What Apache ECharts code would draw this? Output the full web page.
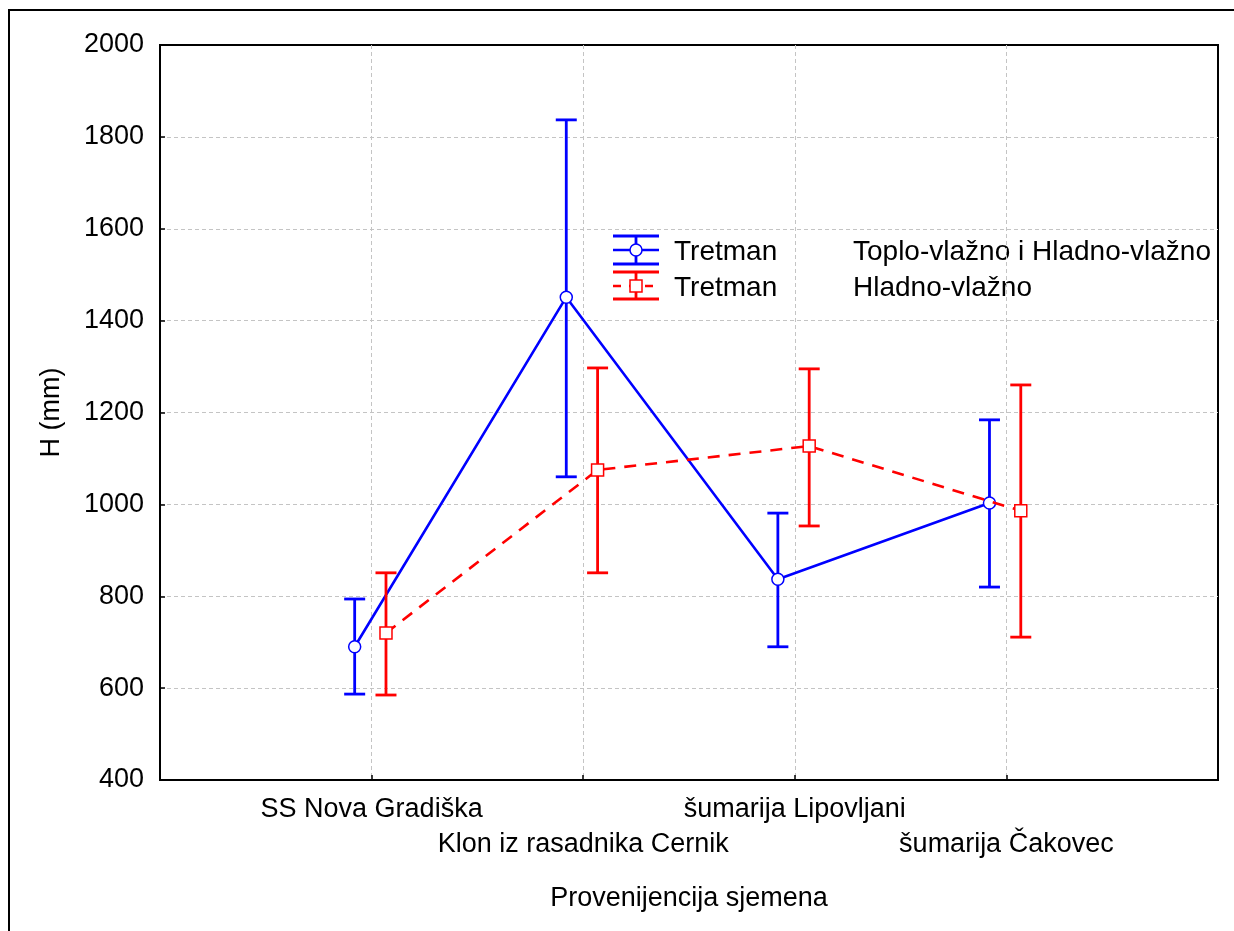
<!DOCTYPE html>
<html>
<head>
<meta charset="utf-8">
<script src="https://cdn.jsdelivr.net/npm/echarts@6/dist/echarts.min.js"></script>
<style>html,body{margin:0;padding:0;background:#fff}#c{width:1234px;height:931px}</style>
</head>
<body>
<div id="c"></div>
<script>
const categories = ['SS Nova Gradiška', 'Klon iz rasadnika Cernik', 'šumarija Lipovljani', 'šumarija Čakovec'];
const blueMean = [690, 1451, 837, 1003];
const blueLow  = [587, 1060, 690, 820];
const blueHigh = [794, 1837, 981, 1184];
const redMean  = [720, 1075, 1127, 986];
const redLow   = [585, 851, 953, 711];
const redHigh  = [851, 1297, 1295, 1260];
const yMin = 400, yMax = 2000, yStep = 200;
const seriesNames = ['Tretman Toplo-vlažno i Hladno-vlažno', 'Tretman Hladno-vlažno'];

const FONT = "'Liberation Sans', Arial, sans-serif";
const FS = 27;
const BLUE = '#0000ff', RED = '#ff0000';
const OFF_BLUE = -0.08, OFF_RED = 0.068;

function pts(vals, off) { return vals.map((v, i) => [i + 1 + off, v]); }
function errData(lo, hi, off) { return lo.map((l, i) => [i + 1 + off, l, hi[i]]); }

function errRender(color) {
  return function (params, api) {
    const x = api.value(0);
    const p1 = api.coord([x, api.value(1)]);
    const p2 = api.coord([x, api.value(2)]);
    const hw = 10.5;
    const st = { stroke: color, lineWidth: 2.8 };
    return {
      type: 'group',
      children: [
        { type: 'line', shape: { x1: p1[0], y1: p1[1], x2: p2[0], y2: p2[1] }, style: st },
        { type: 'line', shape: { x1: p1[0] - hw, y1: p1[1], x2: p1[0] + hw, y2: p1[1] }, style: st },
        { type: 'line', shape: { x1: p2[0] - hw, y1: p2[1], x2: p2[0] + hw, y2: p2[1] }, style: st }
      ]
    };
  };
}

const chart = echarts.init(document.getElementById('c'), null, { renderer: 'canvas' });

const legendX = 613, legendIconW = 46;
function legendIcon(yTop, yMid, yBot, color, dashed, symbol) {
  const cx = legendX + legendIconW / 2;
  const st = { stroke: color, lineWidth: 2.8 };
  const ch = [
    { type: 'line', shape: { x1: legendX, y1: yTop, x2: legendX + legendIconW, y2: yTop }, style: st },
    { type: 'line', shape: { x1: legendX, y1: yBot, x2: legendX + legendIconW, y2: yBot }, style: st },
    { type: 'line', shape: { x1: cx, y1: yTop, x2: cx, y2: yBot }, style: st },
    { type: 'line', shape: { x1: legendX, y1: yMid, x2: legendX + legendIconW, y2: yMid },
      style: { stroke: color, lineWidth: 2.5, lineDash: dashed ? [8, 8] : null } }
  ];
  if (symbol === 'circle') {
    ch.push({ type: 'circle', shape: { cx: cx, cy: yMid, r: 6 }, style: { fill: '#fff', stroke: color, lineWidth: 1.5 } });
  } else {
    ch.push({ type: 'rect', shape: { x: cx - 6, y: yMid - 6, width: 12, height: 12 }, style: { fill: '#fff', stroke: color, lineWidth: 1.5 } });
  }
  return ch;
}

function legendText(x, y, t) {
  return { type: 'text', x: x, y: y, style: { text: t, fill: '#000', font: '28px ' + FONT, verticalAlign: 'middle', align: 'left' } };
}

const option = {
  animation: false,
  backgroundColor: '#fff',
  textStyle: { fontFamily: FONT },
  grid: { left: 160, right: 16, top: 45, bottom: 151, show: true, borderColor: '#000', borderWidth: 2, backgroundColor: 'transparent' },
  xAxis: {
    type: 'value', min: 0, max: categories.length + 1, interval: 1,
    axisLine: { show: true, lineStyle: { color: '#000', width: 2 } },
    axisTick: { show: true, inside: true, length: 5, lineStyle: { color: '#000', width: 1.5 } },
    splitLine: { show: true, showMinLine: false, showMaxLine: false, lineStyle: { color: '#c4c4c4', type: [4, 3], width: 1 } },
    axisLabel: {
      color: '#000', fontSize: FS, fontFamily: FONT, margin: 12, lineHeight: 35,
      formatter: function (v) {
        const i = Math.round(v) - 1;
        if (i < 0 || i >= categories.length) return '';
        return (i % 2 === 1 ? '\n' : '') + categories[i];
      }
    },
    name: 'Provenijencija sjemena', nameLocation: 'middle', nameGap: 105,
    nameTextStyle: { color: '#000', fontSize: FS, fontFamily: FONT }
  },
  yAxis: {
    type: 'value', min: yMin, max: yMax, interval: yStep,
    axisLine: { show: true, lineStyle: { color: '#000', width: 2 } },
    axisTick: { show: true, inside: true, length: 5, lineStyle: { color: '#000', width: 1.5 } },
    splitLine: { show: true, showMinLine: false, showMaxLine: false, lineStyle: { color: '#c4c4c4', type: [4, 3], width: 1 } },
    axisLabel: { color: '#000', fontSize: FS, fontFamily: FONT, margin: 16, formatter: function (v) { return String(v); } },
    name: 'H (mm)', nameLocation: 'middle', nameGap: 95,
    nameTextStyle: { color: '#000', fontSize: FS, fontFamily: FONT }
  },
  graphic: [
    { type: 'rect', shape: { x: 9, y: 10, width: 1240, height: 940 }, style: { fill: 'none', stroke: '#000', lineWidth: 2 }, z: 100 },
    { type: 'group', children: legendIcon(236, 250, 264, BLUE, false, 'circle').concat(legendIcon(272, 286, 299, RED, true, 'rect')) },
    legendText(674, 252, 'Tretman'),
    legendText(674, 288, 'Tretman'),
    legendText(853, 252, 'Toplo-vlažno i Hladno-vlažno'),
    legendText(853, 288, 'Hladno-vlažno')
  ],
  series: [
    { type: 'custom', name: seriesNames[0] + ' err', renderItem: errRender(BLUE), data: errData(blueLow, blueHigh, OFF_BLUE), encode: { x: 0, y: [1, 2] }, z: 2 },
    { type: 'line', name: seriesNames[0], data: pts(blueMean, OFF_BLUE), symbol: 'circle', symbolSize: 12, showSymbol: true,
      lineStyle: { color: BLUE, width: 2.6 }, itemStyle: { color: '#fff', borderColor: BLUE, borderWidth: 1.5 }, z: 3 },
    { type: 'custom', name: seriesNames[1] + ' err', renderItem: errRender(RED), data: errData(redLow, redHigh, OFF_RED), encode: { x: 0, y: [1, 2] }, z: 4 },
    { type: 'line', name: seriesNames[1], data: pts(redMean, OFF_RED), symbol: 'rect', symbolSize: 12, showSymbol: true,
      lineStyle: { color: RED, width: 2.6, type: [12, 9] }, itemStyle: { color: '#fff', borderColor: RED, borderWidth: 1.5 }, z: 5 }
  ]
};
chart.setOption(option);
</script>
</body>
</html>
